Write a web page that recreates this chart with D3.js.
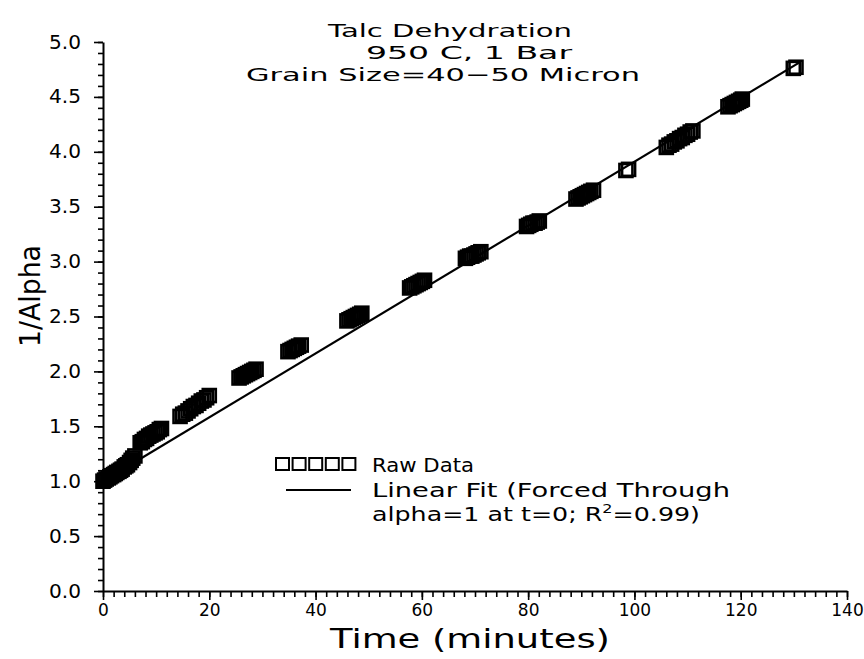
<!DOCTYPE html>
<html>
<head>
<meta charset="utf-8">
<script src="https://cdn.jsdelivr.net/npm/d3@7/dist/d3.min.js"></script>
<style>
  html, body { margin: 0; padding: 0; background: #fff; }
  svg { display: block; }
  text { font-family: "DejaVu Sans", sans-serif; fill: #000; }
</style>
</head>
<body>
<svg id="chart" width="864" height="659"></svg>
<script>
// ---- data ----
const timeMinutes = [
  0.0, 0.3, 0.6, 1.0, 1.3, 1.6, 2.0, 2.3, 2.6, 3.0, 3.3, 3.6, 4.0, 4.3, 4.6, 5.0, 5.3, 5.6, 6.0,
  7.0, 7.4, 7.8, 8.2, 8.6, 9.0, 9.4, 9.8, 10.2, 10.6, 11.0,
  14.5, 15.0, 15.5, 16.0, 16.5, 17.0, 17.5, 18.0, 18.5, 19.0, 19.5, 20.0,
  25.6, 26.0, 26.4, 26.8, 27.2, 27.6, 28.0, 28.4, 28.8,
  34.8, 35.2, 35.6, 36.0, 36.4, 36.8, 37.3,
  45.9, 46.3, 46.7, 47.1, 47.5, 47.9, 48.3, 48.7,
  57.7, 58.1, 58.5, 58.9, 59.3, 59.7, 60.1, 60.5,
  68.2, 68.6, 69.0, 69.4, 69.8, 70.2, 70.6, 71.1,
  79.7, 80.1, 80.5, 80.9, 81.3, 81.7, 82.1,
  89.0, 89.4, 89.8, 90.2, 90.6, 91.0, 91.4, 91.8, 92.3,
  98.4, 98.9,
  106.0, 106.5, 107.0, 107.5, 108.0, 108.5, 109.0, 109.5, 110.0, 110.5, 111.0,
  117.6, 118.0, 118.4, 118.8, 119.2, 119.6, 120.0, 120.3,
  129.9, 130.4
];
const invAlpha = [
  1.00, 1.01, 1.02, 1.03, 1.04, 1.05, 1.06, 1.07, 1.08, 1.09, 1.10, 1.11, 1.13, 1.14, 1.15, 1.17, 1.19, 1.21, 1.23,
  1.35, 1.36, 1.38, 1.39, 1.41, 1.42, 1.43, 1.44, 1.45, 1.47, 1.48,
  1.59, 1.61, 1.62, 1.64, 1.66, 1.68, 1.69, 1.71, 1.73, 1.74, 1.76, 1.78,
  1.94, 1.95, 1.96, 1.97, 1.98, 1.99, 2.00, 2.01, 2.02,
  2.18, 2.19, 2.20, 2.21, 2.22, 2.23, 2.24,
  2.46, 2.47, 2.48, 2.49, 2.50, 2.51, 2.52, 2.53,
  2.76, 2.77, 2.78, 2.79, 2.80, 2.81, 2.82, 2.83,
  3.03, 3.04, 3.05, 3.05, 3.06, 3.07, 3.08, 3.09,
  3.32, 3.33, 3.34, 3.35, 3.35, 3.36, 3.37,
  3.57, 3.58, 3.59, 3.60, 3.61, 3.62, 3.63, 3.64, 3.65,
  3.83, 3.84,
  4.04, 4.06, 4.07, 4.09, 4.10, 4.12, 4.13, 4.15, 4.16, 4.18, 4.19,
  4.41, 4.42, 4.43, 4.44, 4.45, 4.46, 4.47, 4.48,
  4.76, 4.77
];
// linear fit forced through 1/alpha = 1 at t = 0
const fitIntercept = 1.0;
const fitSlope = 0.0291;
const fitRange = [0, 131];

const xTicks = [0, 20, 40, 60, 80, 100, 120, 140];
const xMinorStep = 2;
const yTicks = [0.0, 0.5, 1.0, 1.5, 2.0, 2.5, 3.0, 3.5, 4.0, 4.5, 5.0];
const yMinorStep = 0.1;

const titleLines = ["Talc  Dehydration", "950  C,  1  Bar", "Grain  Size=40\u221250  Micron"];
const xLabel = "Time  (minutes)";
const yLabel = "1/Alpha";
const legendRaw = "Raw  Data";
const legendFit1 = "Linear  Fit  (Forced  Through";
const legendFit2a = "alpha=1  at  t=0;  R";
const legendFit2sup = "2";
const legendFit2b = "=0.99)";

// ---- drawing ----
const svg = d3.select("#chart");
const x = d3.scaleLinear().domain([0, 140]).range([103, 847]);
const y = d3.scaleLinear().domain([0, 5]).range([591, 42]);

const data = timeMinutes.map((t, i) => ({ t, v: invAlpha[i] }));

// axes
const xMinor = d3.range(0, 140 + 1e-9, xMinorStep);
const yMinor = d3.range(0, 5 + 1e-9, yMinorStep);

const gx = svg.append("g").attr("transform", `translate(0,${y(0)})`);
gx.call(d3.axisBottom(x).tickValues(xMinor).tickSize(6).tickSizeOuter(0).tickFormat(""));
gx.call(g => g.select(".domain").remove());
const gx2 = svg.append("g").attr("transform", `translate(0,${y(0)})`);
gx2.call(d3.axisBottom(x).tickValues(xTicks).tickSize(9).tickSizeOuter(0).tickPadding(4).tickFormat(d3.format("d")));
gx2.selectAll("text").style("font-size", "17px").attr("dy", "0.72em");

const gy = svg.append("g").attr("transform", `translate(${x(0)},0)`);
gy.call(d3.axisLeft(y).tickValues(yMinor).tickSize(5).tickSizeOuter(0).tickFormat(""));
gy.call(g => g.select(".domain").remove());
const gy2 = svg.append("g").attr("transform", `translate(${x(0)},0)`);
gy2.call(d3.axisLeft(y).tickValues(yTicks).tickSize(9).tickSizeOuter(0).tickPadding(13).tickFormat(d3.format(".1f")));
gy2.selectAll("text").style("font-size", "19px").attr("textLength", 32).attr("lengthAdjust", "spacingAndGlyphs");

svg.selectAll(".domain").attr("stroke", "#000").attr("stroke-width", 2);
svg.selectAll(".tick line").attr("stroke", "#000").attr("stroke-width", 1.6);

// fit line
const line = d3.line().x(d => x(d)).y(d => y(fitIntercept + fitSlope * d));
svg.append("path").attr("d", line(fitRange)).attr("fill", "none").attr("stroke", "#000").attr("stroke-width", 2.2);

// raw data: open squares
const sq = 13;
svg.append("g").selectAll("rect").data(data).join("rect")
  .attr("x", d => x(d.t) - sq / 2).attr("y", d => y(d.v) - sq / 2)
  .attr("width", sq).attr("height", sq)
  .attr("fill", "none").attr("stroke", "#000").attr("stroke-width", 2.6);

// title
const title = svg.append("g");
const titleX = [328, 366, 246];
const titleLen = [244, 206, 394];
titleLines.forEach((s, i) => {
  title.append("text").attr("x", titleX[i]).attr("y", 37 + i * 22)
    .attr("textLength", titleLen[i]).attr("lengthAdjust", "spacingAndGlyphs")
    .style("font-size", "18px").text(s);
});

// axis labels
svg.append("text").attr("x", 470).attr("y", 648).attr("text-anchor", "middle")
  .attr("textLength", 280).attr("lengthAdjust", "spacingAndGlyphs")
  .style("font-size", "26px").text(xLabel);
svg.append("text").attr("transform", "translate(40,296) rotate(-90)").attr("text-anchor", "middle")
  .attr("textLength", 102).attr("lengthAdjust", "spacingAndGlyphs")
  .style("font-size", "29px").text(yLabel);

// legend
const lg = svg.append("g");
for (let i = 0; i < 5; i++) {
  lg.append("rect").attr("x", 276 + i * 16.6).attr("y", 458).attr("width", 13).attr("height", 12)
    .attr("fill", "none").attr("stroke", "#000").attr("stroke-width", 2);
}
lg.append("line").attr("x1", 286).attr("x2", 351).attr("y1", 490).attr("y2", 490)
  .attr("stroke", "#000").attr("stroke-width", 1.8);
lg.append("text").attr("x", 372).attr("y", 472).attr("textLength", 102).attr("lengthAdjust", "spacingAndGlyphs")
  .style("font-size", "19px").text(legendRaw);
lg.append("text").attr("x", 372).attr("y", 497).attr("textLength", 358).attr("lengthAdjust", "spacingAndGlyphs")
  .style("font-size", "19px").text(legendFit1);
const l3 = lg.append("text").attr("x", 372).attr("y", 521).style("font-size", "19px")
  .attr("textLength", 328).attr("lengthAdjust", "spacingAndGlyphs");
l3.append("tspan").text(legendFit2a);
l3.append("tspan").attr("dy", -8).style("font-size", "12px").text(legendFit2sup);
l3.append("tspan").attr("dy", 8).text(legendFit2b);
</script>
</body>
</html>
